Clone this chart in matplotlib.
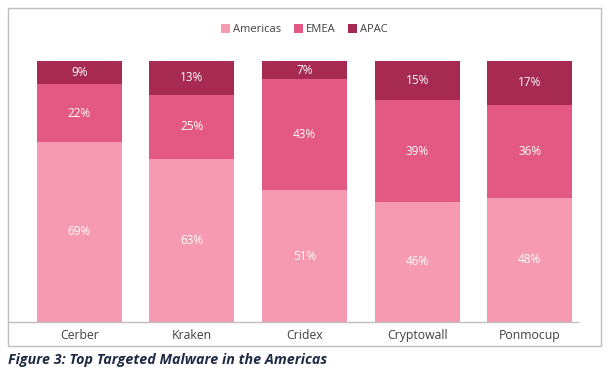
import matplotlib.pyplot as plt
import numpy as np
from matplotlib.patches import Rectangle
from matplotlib.lines import Line2D

plt.rcParams['font.family'] = ['Open Sans', 'DejaVu Sans']

malware = ["Cerber", "Kraken", "Cridex", "Cryptowall", "Ponmocup"]
americas = [69, 63, 51, 46, 48]
emea = [22, 25, 43, 39, 36]
apac = [9, 13, 7, 15, 17]

series = [("Americas", americas, "#F59AB0"),
          ("EMEA", emea, "#E35983"),
          ("APAC", apac, "#A72A52")]

W, H = 612, 374
fig = plt.figure(figsize=(W / 100, H / 100), dpi=100)
ax = fig.add_axes([23 / W, 1 - 322 / H, 563 / W, 261 / H])

# 100% stacked: normalise each column
totals = np.array(americas) + np.array(emea) + np.array(apac)
x = np.arange(len(malware))
bottom = np.zeros(len(malware))
for name, vals, col in series:
    share = np.array(vals) / totals * 100
    ax.bar(x, share, 0.755, bottom=bottom, color=col, label=name)
    for xi, b, s, v in zip(x, bottom, share, vals):
        ax.text(xi, b + s / 2, f"{v}%", ha="center", va="center",
                color="white", fontsize=8.5)
    bottom += share

ax.set_xlim(-0.5, len(malware) - 0.5)
ax.set_ylim(0, 100)
ax.set_xticks(x)
ax.set_xticklabels(malware, fontsize=8.8, color="#404040")
ax.tick_params(axis="x", length=0, pad=5)
ax.set_yticks([])
for s in ax.spines.values():
    s.set_visible(False)

ax.legend(loc="lower center", bbox_to_anchor=(0.5, 1.06), ncol=3, frameon=False,
          fontsize=8, handlelength=0.8, handleheight=0.8, handletextpad=0.3,
          columnspacing=1.1, labelcolor="#404040")

# baseline and outer frame
fig.add_artist(Line2D([9 / W, 578 / W], [1 - 322 / H, 1 - 322 / H],
                      color="#BFBFBF", lw=1))
fig.add_artist(Rectangle((8 / W, 1 - 346 / H), 593 / W, 338 / H, fill=False,
                         edgecolor="#BFBFBF", lw=1))

fig.text(8 / W, 1 - 360 / H, "Figure 3: Top Targeted Malware in the Americas",
         fontsize=10.3, fontweight="bold", fontstyle="italic", color="#1F2A44",
         va="center", ha="left")

fig.savefig("out.png", dpi=100)
